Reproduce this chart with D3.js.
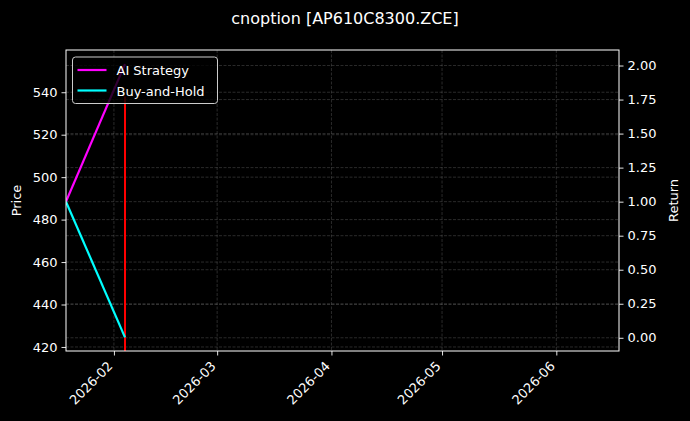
<!DOCTYPE html>
<html>
<head>
<meta charset="utf-8">
<script src="https://cdn.jsdelivr.net/npm/d3@7"></script>
<style>
  html, body { margin: 0; padding: 0; background: #000; }
  svg text { font-family: "DejaVu Sans", sans-serif; fill: #fff; }
</style>
</head>
<body>
<svg id="chart"></svg>
<script>
// values
const titleText = "cnoption [AP610C8300.ZCE]";
const xDomain = ["2026-01-19", "2026-06-18"];
const xTicks = ["2026-02-01", "2026-03-01", "2026-04-01", "2026-05-01", "2026-06-01"];

const priceDates = ["2026-02-04", "2026-02-04"];
const priceValues = [538, 418.1];
const priceDomain = [418.1, 559.9];
const priceTicks = [420, 440, 460, 480, 500, 520, 540];

const returnDates = ["2026-01-19", "2026-02-04"];
const aiReturn = [1.0, 2.01];
const bhReturn = [1.0, 0.003];
const returnDomain = [-0.097, 2.114];
const returnTicks = [0, 0.25, 0.5, 0.75, 1.0, 1.25, 1.5, 1.75, 2.0];

const seriesNames = ["AI Strategy", "Buy-and-Hold"];
const seriesColors = ["#ff00ff", "#00ffff"];

const W = 690, H = 421;
const margin = { top: 50, right: 71, bottom: 70, left: 66 };
const width = W - margin.left - margin.right;
const height = H - margin.top - margin.bottom;

const parse = d3.utcParse("%Y-%m-%d");

const svg = d3.select("#chart").attr("width", W).attr("height", H);
svg.append("rect").attr("width", W).attr("height", H).attr("fill", "#000");

svg.append("defs").append("clipPath").attr("id", "plot-area")
  .append("rect").attr("width", width).attr("height", height);

const g = svg.append("g").attr("transform", `translate(${margin.left},${margin.top})`);

const x = d3.scaleUtc().domain(xDomain.map(parse)).range([0, width]);
const yPrice = d3.scaleLinear().domain(priceDomain).range([height, 0]);
const yRet = d3.scaleLinear().domain(returnDomain).range([height, 0]);

// grid
const grid = g.append("g").attr("class", "grid")
  .attr("stroke", "#fff").attr("stroke-opacity", 0.28)
  .attr("stroke-width", 0.6).attr("stroke-dasharray", "3,1.5");
grid.selectAll(".gx").data(xTicks.map(parse)).enter().append("line")
  .attr("x1", d => x(d)).attr("x2", d => x(d)).attr("y1", 0).attr("y2", height);
grid.selectAll(".gp").data(priceTicks).enter().append("line")
  .attr("x1", 0).attr("x2", width).attr("y1", d => yPrice(d)).attr("y2", d => yPrice(d));
grid.selectAll(".gr").data(returnTicks).enter().append("line")
  .attr("x1", 0).attr("x2", width).attr("y1", d => yRet(d)).attr("y2", d => yRet(d));

const plot = g.append("g").attr("clip-path", "url(#plot-area)");

// price line
const priceLine = d3.line().x(d => x(d[0])).y(d => yPrice(d[1]));
plot.append("path")
  .datum(priceDates.map((d, i) => [parse(d), priceValues[i]]))
  .attr("d", priceLine).attr("fill", "none")
  .attr("stroke", "#ff0000").attr("stroke-width", 2);

// return lines
const retLine = d3.line().x(d => x(d[0])).y(d => yRet(d[1]));
[aiReturn, bhReturn].forEach((vals, i) => {
  plot.append("path")
    .datum(returnDates.map((d, j) => [parse(d), vals[j]]))
    .attr("d", retLine).attr("fill", "none")
    .attr("stroke", seriesColors[i]).attr("stroke-width", 2.2)
    .attr("stroke-linejoin", "round");
});

// axes
const styleAxis = (sel) => {
  sel.select(".domain").remove();
  sel.selectAll(".tick line").attr("stroke", "#fff").attr("stroke-width", 0.9);
  sel.selectAll(".tick text").attr("fill", "#fff").style("font-size", "13px");
};

g.append("g")
  .attr("transform", `translate(0,${height})`)
  .call(d3.axisBottom(x).tickValues(xTicks.map(parse)).tickFormat(d3.utcFormat("%Y-%m")).tickSizeOuter(0).tickSize(4.5).tickPadding(4))
  .call(styleAxis)
  .selectAll(".tick text")
  .attr("text-anchor", "end")
  .attr("x", 0)
  .attr("y", 0)
  .attr("dy", "0")
  .attr("transform", "translate(-1,16) rotate(-45)");

g.append("g")
  .call(d3.axisLeft(yPrice).tickValues(priceTicks).tickFormat(d3.format("d")).tickSizeOuter(0).tickSize(4.5).tickPadding(4))
  .call(styleAxis);

g.append("g")
  .attr("transform", `translate(${width},0)`)
  .call(d3.axisRight(yRet).tickValues(returnTicks).tickFormat(d3.format(".2f")).tickSizeOuter(0).tickSize(4.5).tickPadding(4))
  .call(styleAxis);

// frame
g.append("rect").attr("width", width).attr("height", height)
  .attr("fill", "none").attr("stroke", "#fff").attr("stroke-width", 1);

// axis labels
svg.append("text")
  .attr("transform", `translate(21,${margin.top + height / 2}) rotate(-90)`)
  .attr("text-anchor", "middle").style("font-size", "13px").text("Price");
svg.append("text")
  .attr("transform", `translate(${W - 12},${margin.top + height / 2}) rotate(-90)`)
  .attr("text-anchor", "middle").style("font-size", "13px").text("Return");

// title
svg.append("text")
  .attr("x", W / 2).attr("y", 24)
  .attr("text-anchor", "middle").style("font-size", "16px").text(titleText);

// legend
const legend = g.append("g").attr("transform", "translate(6.5,7)");
legend.append("rect")
  .attr("width", 145).attr("height", 46.5).attr("rx", 3)
  .attr("fill", "#000").attr("fill-opacity", 0.8)
  .attr("stroke", "#ccc").attr("stroke-width", 1);
seriesNames.forEach((name, i) => {
  const row = legend.append("g").attr("transform", `translate(0,${13 + i * 20.5})`);
  row.append("line").attr("x1", 5).attr("x2", 34)
    .attr("stroke", seriesColors[i]).attr("stroke-width", 2.2);
  row.append("text").attr("x", 44).attr("y", 5)
    .style("font-size", "13px").text(name);
});
</script>
</body>
</html>
